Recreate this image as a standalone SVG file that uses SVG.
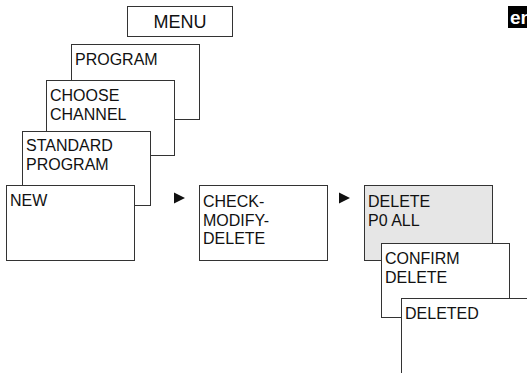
<svg xmlns="http://www.w3.org/2000/svg" width="527" height="373" viewBox="0 0 527 373">
<style>
.box{fill:#fff;stroke:#333;stroke-width:1}
.gray{fill:#e6e6e6;stroke:#333;stroke-width:1}
text{font-family:"Liberation Sans",Arial,sans-serif;font-size:16px;fill:#111}
.menu{font-size:18px;text-anchor:middle}
.badge{font-size:19px;font-weight:bold;fill:#fff}
.arr{fill:#111}
</style>
<rect width="527" height="373" fill="#fff"/>
<g id="menu"><rect class="box" x="127.5" y="6.5" width="105" height="30"/><text class="menu" x="180" y="28">MENU</text></g>
<g id="program"><rect class="box" x="71.5" y="44.5" width="128" height="75"/><text x="75" y="65">PROGRAM</text></g>
<g id="choose-channel"><rect class="box" x="46.5" y="80.5" width="128" height="75"/><text x="50" y="101">CHOOSE</text><text x="50" y="120">CHANNEL</text></g>
<g id="standard-program"><rect class="box" x="22.5" y="131.5" width="128" height="74"/><text x="26" y="151">STANDARD</text><text x="26" y="170">PROGRAM</text></g>
<g id="new"><rect class="box" x="6.5" y="185.5" width="128" height="75"/><text x="10" y="206">NEW</text></g>
<g id="check"><rect class="box" x="199.5" y="185.5" width="128" height="75"/><text x="203" y="207">CHECK-</text><text x="203" y="225.5">MODIFY-</text><text x="203" y="244">DELETE</text></g>
<g id="delete-p0"><rect class="gray" x="364.5" y="185.5" width="128" height="75"/><text x="368" y="207">DELETE</text><text x="368" y="225.5">P0 ALL</text></g>
<g id="confirm"><rect class="box" x="381.5" y="243.5" width="128" height="74"/><text x="385" y="263.5">CONFIRM</text><text x="385" y="282.5">DELETE</text></g>
<g id="deleted"><rect class="box" x="401.5" y="298.5" width="140" height="90"/><text x="405" y="318.5">DELETED</text></g>
<g id="connectors"><polygon class="arr" points="174,192.5 185,198 174,203.5"/><polygon class="arr" points="339,192.5 350,198 339,203.5"/></g>
<g id="lang"><rect x="508" y="6" width="30" height="22" fill="#000"/><text class="badge" x="510" y="24">en</text></g>
</svg>
